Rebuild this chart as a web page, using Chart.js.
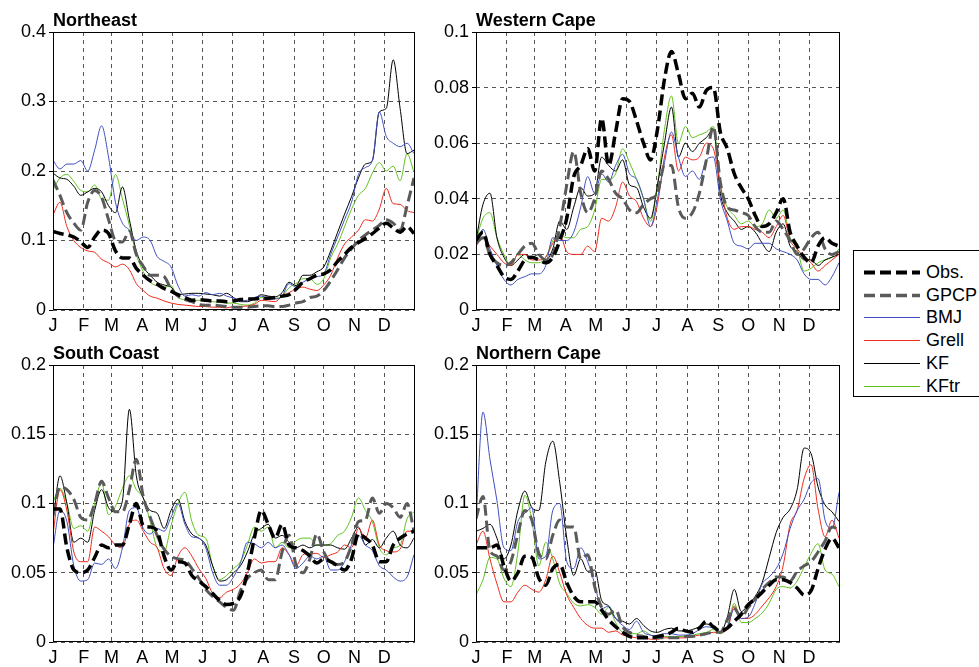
<!DOCTYPE html>
<html>
<head>
<meta charset="utf-8">
<title>Ciclo anual de precipitación</title>
<script src="https://cdn.jsdelivr.net/npm/chart.js@4.4.0/dist/chart.umd.min.js"></script>
<style>
    html, body { margin: 0; padding: 0; background: #fff; }
    body { position: relative; width: 979px; height: 667px; overflow: hidden; }
    canvas { position: absolute; }
    #legend {
        position: absolute; left: 853px; top: 250px; width: 127px; height: 145px;
        border: 1px solid #000; background: #fff; z-index: 5;
        font-family: 'Liberation Sans', Arial, Helvetica, sans-serif; font-size: 18px; color: #000;
    }
    .item { position: absolute; left: 0; width: 127px; height: 22px; }
    .item svg { position: absolute; left: 9px; top: 0; }
    .item span { position: absolute; left: 72px; top: 0; line-height: 22px; white-space: nowrap; }
</style>
</head>
<body>
<canvas id="cNE" width="440" height="345" style="left:0px;top:0px;width:440px;height:345px"></canvas>
<canvas id="cWC" width="440" height="345" style="left:423px;top:0px;width:440px;height:345px"></canvas>
<canvas id="cSC" width="440" height="334" style="left:0px;top:333px;width:440px;height:334px"></canvas>
<canvas id="cNC" width="440" height="334" style="left:423px;top:333px;width:440px;height:334px"></canvas>
<div id="legend"></div>
<script>
// Dias del año (cada 7 dias)
var DAYS = [0, 7, 14, 21, 28, 35, 42, 49, 56, 63, 70, 77, 84, 91, 98, 105, 112, 119, 126, 133,
    140, 147, 154, 161, 168, 175, 182, 189, 196, 203, 210, 217, 224, 231, 238, 245, 252, 259, 266, 273,
    280, 287, 294, 301, 308, 315, 322, 329, 336, 343, 350, 357, 364];
var MONTH_START = [0, 31, 59, 90, 120, 151, 181, 212, 243, 273, 304, 334];
var MONTH_LABELS = ['J', 'F', 'M', 'A', 'M', 'J', 'J', 'A', 'S', 'O', 'N', 'D'];
var SERIES_NAMES = ['Obs.', 'GPCP', 'BMJ', 'Grell', 'KF', 'KFtr'];

// Northeast
var neObs = [.113, .11, .108, .105, .098, .09, .105, .115, .11, .085, .075, .075, .06, .05, .042, .037, .031, .027, .022, .018,
    .014, .015, .014, .013, .013, .012, .013, .015, .016, .016, .017, .017, .018, .02, .022, .03, .04, .045, .05, .052,
    .058, .07, .08, .09, .097, .103, .11, .118, .125, .118, .112, .12, .11];
var neGpcp = [.187, .165, .14, .125, .115, .155, .172, .162, .13, .1, .098, .113, .08, .063, .05, .05, .048, .03, .02, .015,
    .012, .008, .007, .007, .006, .005, .004, .004, .004, .005, .006, .006, .005, .005, .007, .01, .012, .018, .02, .028,
    .042, .058, .075, .088, .1, .108, .115, .122, .13, .125, .115, .15, .19];
var neBmj = [.215, .203, .21, .21, .215, .2, .23, .265, .22, .155, .125, .115, .1, .105, .1, .077, .07, .062, .035, .02,
    .022, .02, .025, .022, .024, .02, .017, .013, .014, .018, .02, .016, .016, .02, .038, .033, .04, .045, .048, .052,
    .08, .105, .13, .155, .195, .205, .215, .285, .25, .24, .235, .24, .225];
var neGrell = [.137, .155, .12, .1, .09, .085, .083, .073, .068, .062, .066, .058, .038, .028, .02, .017, .013, .01, .008, .007,
    .006, .005, .005, .004, .004, .003, .005, .005, .006, .008, .014, .013, .012, .02, .025, .03, .033, .03, .028, .036,
    .05, .075, .095, .105, .115, .13, .128, .145, .175, .153, .152, .143, .14];
var neKf = [.197, .19, .188, .178, .165, .17, .175, .17, .15, .14, .177, .13, .085, .062, .05, .04, .036, .033, .022, .023,
    .024, .024, .023, .022, .02, .024, .018, .012, .012, .016, .022, .02, .019, .025, .04, .035, .05, .05, .055, .062,
    .085, .112, .138, .163, .19, .21, .215, .285, .29, .36, .29, .225, .23];
var neKftr = [.173, .19, .195, .185, .172, .17, .18, .16, .158, .195, .16, .122, .08, .055, .04, .035, .033, .035, .018, .015,
    .013, .014, .013, .012, .011, .01, .01, .008, .007, .01, .018, .018, .017, .02, .032, .038, .045, .045, .037, .045,
    .075, .095, .12, .145, .165, .175, .197, .212, .2, .207, .186, .225, .198];

// Western Cape
var wcObs = [.025, .028, .02, .016, .012, .011, .014, .018, .019, .018, .017, .019, .025, .033, .048, .052, .058, .05, .069, .052,
    .064, .076, .075, .068, .06, .054, .065, .083, .093, .085, .076, .078, .073, .079, .08, .064, .058, .049, .044, .04,
    .034, .03, .031, .035, .04, .028, .023, .019, .017, .023, .026, .024, .023];
var wcGpcp = [.024, .026, .02, .017, .016, .017, .02, .023, .024, .02, .018, .02, .03, .045, .057, .042, .035, .04, .05, .047,
    .042, .04, .036, .035, .038, .04, .042, .052, .052, .037, .033, .035, .042, .054, .066, .046, .037, .036, .035, .034,
    .03, .028, .028, .032, .029, .025, .02, .022, .026, .028, .022, .02, .021];
var wcBmj = [.023, .029, .022, .016, .011, .009, .011, .012, .013, .013, .016, .026, .025, .025, .028, .037, .048, .042, .049, .046,
    .052, .056, .049, .047, .04, .03, .04, .053, .064, .055, .048, .05, .047, .054, .055, .04, .032, .024, .023, .022,
    .024, .024, .024, .022, .021, .02, .018, .013, .011, .011, .009, .012, .017];
var wcGrell = [.023, .026, .023, .02, .017, .016, .02, .02, .018, .018, .019, .024, .027, .021, .02, .02, .023, .021, .033, .032,
    .037, .046, .041, .039, .033, .03, .038, .055, .063, .05, .055, .054, .055, .06, .058, .045, .033, .029, .03, .03,
    .029, .028, .026, .03, .034, .025, .022, .019, .017, .014, .016, .018, .02];
var wcKf = [.025, .038, .042, .026, .019, .016, .018, .02, .019, .02, .018, .022, .032, .029, .037, .044, .041, .042, .055, .052,
    .05, .054, .045, .044, .037, .033, .045, .06, .073, .055, .06, .057, .06, .062, .065, .042, .035, .032, .029, .03,
    .028, .024, .021, .028, .031, .023, .021, .018, .018, .016, .018, .019, .02];
var wcKftr = [.025, .033, .035, .026, .02, .016, .02, .018, .017, .017, .019, .025, .027, .026, .026, .029, .03, .036, .047, .047,
    .049, .058, .053, .047, .04, .032, .045, .065, .077, .06, .066, .062, .063, .064, .066, .045, .037, .034, .031, .032,
    .03, .031, .036, .033, .036, .026, .022, .014, .015, .017, .018, .019, .022];

// South Coast
var scObs = [.096, .096, .068, .052, .05, .052, .061, .07, .068, .07, .07, .085, .1, .084, .083, .08, .062, .052, .058, .057,
    .048, .044, .04, .035, .03, .027, .028, .033, .05, .075, .095, .085, .075, .085, .07, .068, .066, .062, .057, .06,
    .058, .055, .052, .06, .078, .075, .07, .058, .058, .07, .075, .078, .08];
var scGpcp = [.092, .112, .11, .103, .09, .088, .1, .116, .104, .094, .094, .11, .132, .105, .09, .077, .067, .062, .06, .059,
    .053, .046, .038, .033, .029, .025, .023, .037, .046, .05, .052, .045, .045, .065, .077, .056, .05, .06, .078, .065,
    .057, .056, .058, .07, .087, .088, .104, .093, .1, .097, .09, .1, .08];
var scBmj = [.068, .095, .087, .055, .044, .045, .057, .056, .06, .053, .068, .095, .097, .082, .078, .082, .08, .09, .1, .085,
    .076, .075, .068, .05, .041, .041, .047, .057, .072, .071, .068, .072, .068, .07, .063, .053, .057, .062, .06, .062,
    .052, .052, .058, .07, .077, .07, .066, .055, .052, .047, .044, .047, .063];
var scGrell = [.078, .11, .095, .065, .058, .058, .083, .08, .076, .07, .068, .085, .088, .08, .072, .068, .053, .048, .062, .068,
    .062, .053, .046, .035, .032, .036, .038, .042, .05, .06, .057, .058, .058, .068, .063, .055, .063, .064, .064, .061,
    .063, .065, .07, .068, .082, .075, .088, .07, .066, .065, .067, .08, .08];
var scKf = [.087, .12, .1, .072, .075, .072, .095, .11, .097, .094, .102, .168, .12, .104, .095, .093, .082, .095, .103, .087,
    .078, .075, .07, .055, .044, .045, .05, .055, .065, .078, .082, .085, .075, .077, .072, .068, .07, .068, .07, .07,
    .07, .068, .067, .075, .083, .07, .074, .068, .075, .08, .07, .068, .075];
var scKftr = [.101, .111, .1, .082, .084, .08, .1, .115, .092, .098, .111, .12, .11, .104, .087, .068, .065, .084, .1, .108,
    .087, .077, .075, .055, .045, .048, .053, .058, .07, .083, .08, .083, .068, .072, .068, .073, .075, .075, .07, .07,
    .071, .077, .08, .09, .104, .095, .087, .068, .063, .068, .07, .089, .094];

// Northern Cape
var ncObs = [.068, .068, .068, .07, .055, .044, .05, .062, .061, .046, .041, .053, .056, .043, .033, .029, .029, .029, .023, .016,
    .011, .007, .004, .003, .003, .003, .004, .005, .007, .01, .008, .007, .01, .015, .011, .008, .01, .015, .02, .027,
    .031, .036, .041, .045, .045, .043, .039, .034, .037, .053, .067, .075, .068];
var ncGpcp = [.089, .105, .066, .062, .052, .058, .078, .095, .088, .064, .06, .077, .088, .083, .083, .06, .063, .04, .025, .02,
    .023, .011, .007, .005, .004, .003, .003, .003, .003, .003, .004, .004, .005, .006, .007, .007, .016, .024, .018, .025,
    .031, .038, .043, .047, .047, .044, .051, .055, .058, .065, .073, .083, .081];
var ncBmj = [.087, .166, .132, .102, .068, .066, .087, .093, .097, .06, .062, .095, .1, .058, .053, .068, .058, .042, .024, .026,
    .017, .012, .009, .015, .007, .005, .004, .006, .006, .005, .005, .006, .009, .011, .01, .007, .011, .024, .017, .018,
    .028, .042, .047, .053, .064, .082, .095, .103, .115, .118, .088, .082, .108];
var ncGrell = [.07, .08, .06, .042, .029, .029, .036, .041, .038, .036, .045, .062, .05, .034, .025, .017, .012, .01, .01, .007,
    .008, .005, .004, .003, .003, .002, .002, .003, .003, .003, .003, .004, .005, .006, .007, .007, .009, .026, .017, .017,
    .02, .026, .032, .04, .055, .085, .095, .118, .128, .096, .076, .088, .075];
var ncKf = [.08, .082, .085, .075, .06, .07, .095, .109, .097, .095, .13, .145, .115, .075, .048, .06, .051, .052, .03, .026,
    .017, .015, .013, .017, .012, .008, .007, .009, .01, .008, .008, .009, .011, .013, .011, .007, .018, .038, .022, .027,
    .033, .043, .061, .079, .09, .096, .11, .14, .136, .112, .099, .094, .087];
var ncKftr = [.034, .045, .061, .06, .046, .04, .065, .106, .088, .055, .072, .06, .042, .035, .028, .026, .027, .025, .02, .025,
    .014, .007, .006, .006, .008, .005, .004, .004, .004, .004, .004, .005, .006, .007, .009, .006, .011, .028, .014, .014,
    .017, .021, .028, .038, .04, .039, .044, .054, .064, .071, .052, .049, .04];

var FONT = "'Liberation Sans', Arial, Helvetica, sans-serif";

// estilo de cada serie (mismo orden que SERIES_NAMES)
var ESTILOS = [
    { color: '#000000', width: 3.5, dash: [11, 5] },
    { color: '#5a5a5a', width: 3, dash: [11, 5] },
    { color: '#3f4fc0', width: 1, dash: [] },
    { color: '#ee2a1b', width: 1, dash: [] },
    { color: '#000000', width: 1, dash: [] },
    { color: '#5ec21c', width: 1, dash: [] }
];

// caja + titulo del panel
var panelBox = {
    id: 'panelBox',
    afterDraw: function (chart, args, opts) {
        var a = chart.chartArea;
        var ctx = chart.ctx;
        ctx.save();
        ctx.strokeStyle = '#000';
        ctx.lineWidth = 1;
        ctx.setLineDash([]);
        ctx.strokeRect(Math.round(a.left) + 0.5, Math.round(a.top) + 0.5,
            Math.round(a.right - a.left) - 1, Math.round(a.bottom - a.top) - 1);
        ctx.fillStyle = '#000';
        ctx.font = 'bold 18px ' + FONT;
        ctx.textBaseline = 'alphabetic';
        ctx.textAlign = 'left';
        ctx.fillText(opts.title, a.left, a.top - 6);
        ctx.restore();
    }
};

function generarPanel(idCanvas, titulo, yMax, paso, series, padRight, padBottom, altoEjeX) {
    var ctx = document.getElementById(idCanvas).getContext('2d');

    var datasets = series.map(function (valores, i) {
        var s = ESTILOS[i];
        return {
            label: SERIES_NAMES[i],
            data: valores.map(function (v, k) {
                return { x: DAYS[k], y: v };
            }),
            borderColor: s.color,
            borderWidth: s.width,
            borderDash: s.dash,
            borderCapStyle: 'butt',
            pointRadius: 0,
            fill: false,
            cubicInterpolationMode: 'monotone'
        };
    });

    new Chart(ctx, {
        type: 'line',
        data: { datasets: datasets },
        plugins: [panelBox],
        options: {
            responsive: false,
            animation: false,
            events: [],
            layout: { padding: { left: 0, top: 32, right: padRight, bottom: padBottom } },
            plugins: {
                legend: { display: false },
                tooltip: { enabled: false },
                panelBox: { title: titulo }
            },
            scales: {
                x: {
                    type: 'linear',
                    min: 0,
                    max: 365,
                    afterBuildTicks: function (scale) {
                        scale.ticks = MONTH_START.map(function (d) {
                            return { value: d };
                        });
                    },
                    afterFit: function (scale) {
                        scale.height = altoEjeX;
                    },
                    ticks: {
                        autoSkip: false,
                        maxRotation: 0,
                        padding: 5,
                        color: '#000',
                        font: { family: FONT, size: 18 },
                        callback: function (v) {
                            return MONTH_LABELS[MONTH_START.indexOf(v)];
                        }
                    },
                    grid: { color: '#555', lineWidth: 1, drawTicks: false },
                    border: { display: false, dash: [4, 4] }
                },
                y: {
                    min: 0,
                    max: yMax,
                    afterFit: function (scale) {
                        scale.width = 53;
                    },
                    ticks: {
                        stepSize: paso,
                        padding: 3,
                        color: '#000',
                        font: { family: FONT, size: 18 },
                        callback: function (v) {
                            return String(Number(v.toFixed(3)));
                        }
                    },
                    grid: {
                        color: '#555', lineWidth: 1,
                        drawTicks: true, tickLength: 4, tickColor: '#000', tickBorderDash: []
                    },
                    border: { display: false, dash: [4, 4] }
                }
            }
        }
    });
}

generarPanel('cNE', 'Northeast', 0.4, 0.1, [neObs, neGpcp, neBmj, neGrell, neKf, neKftr], 25, 5, 30);
generarPanel('cWC', 'Western Cape', 0.1, 0.02, [wcObs, wcGpcp, wcBmj, wcGrell, wcKf, wcKftr], 23, 5, 30);
generarPanel('cSC', 'South Coast', 0.2, 0.05, [scObs, scGpcp, scBmj, scGrell, scKf, scKftr], 25, 0, 25);
generarPanel('cNC', 'Northern Cape', 0.2, 0.05, [ncObs, ncGpcp, ncBmj, ncGrell, ncKf, ncKftr], 23, 0, 25);

// leyenda
var leyenda = document.getElementById('legend');
SERIES_NAMES.forEach(function (nombre, i) {
    var s = ESTILOS[i];
    var fila = document.createElement('div');
    fila.className = 'item';
    fila.style.top = (10 + i * 22.7) + 'px';
    var lw = s.width > 1 ? s.width + 0.5 : 1;
    fila.innerHTML = '<svg width="60" height="22"><line x1="1" y1="11.5" x2="57" y2="11.5" stroke="' + s.color +
        '" stroke-width="' + lw + '"' + (s.dash.length ? ' stroke-dasharray="' + s.dash.join(',') + '"' : '') +
        '/></svg><span>' + nombre + '</span>';
    leyenda.appendChild(fila);
});
</script>
</body>
</html>
